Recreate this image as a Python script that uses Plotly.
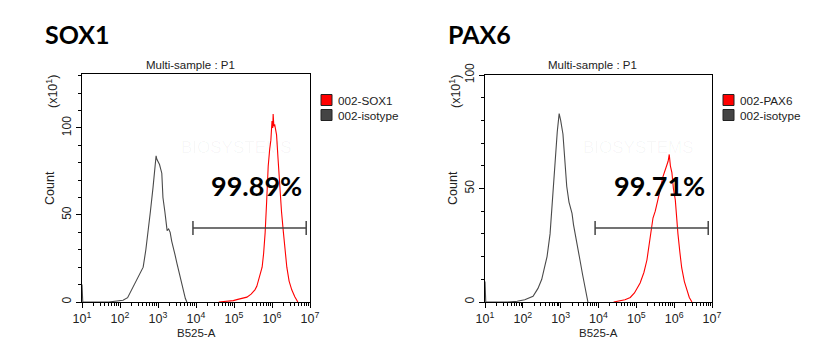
import plotly.graph_objects as go

W, H = 820, 360
OFF = 8  # page body margin offset

# ---------------- data (x as log10 of B525-A intensity, y as Count x10) ----------------
sox1_iso_log = [1.00, 1.02, 1.70, 1.90, 2.08, 2.20, 2.34, 2.45, 2.55, 2.61, 2.68, 2.74, 2.80, 2.87, 2.92,
                2.95, 2.97, 3.00, 3.04, 3.10, 3.13, 3.18, 3.24, 3.28, 3.32, 3.36, 3.40, 3.45, 3.50, 3.56,
                3.62, 3.68, 3.72, 3.76]
sox1_iso_cnt = [10, 0, 0, 0.5, 1, 2.5, 8.6, 13, 17, 20, 30, 40, 52, 66, 76,
                84, 82, 81, 79, 74, 60, 52, 41, 42, 40, 35, 32, 27, 22, 16,
                11, 5, 2, 0]

sox1_pos_log = [4.60, 4.80, 4.98, 5.10, 5.20, 5.34, 5.45, 5.55, 5.60, 5.67, 5.74, 5.78, 5.82, 5.86, 5.90,
                5.94, 5.97, 6.00, 6.02, 6.03, 6.05, 6.07, 6.09, 6.12, 6.16, 6.20, 6.25, 6.30, 6.35, 6.39,
                6.45, 6.52, 6.60, 6.68]
sox1_pos_cnt = [0, 0.3, 0.8, 1.5, 2, 2.8, 4.5, 7, 9, 14, 20, 28, 40, 58, 78,
                88, 93, 104, 100, 108, 101, 102, 99, 96, 82, 66, 52, 40, 28, 20,
                12, 7, 3, 0]

pax6_iso_log = [1.00, 1.02, 1.60, 1.85, 2.05, 2.27, 2.40, 2.50, 2.57, 2.64, 2.72, 2.78, 2.85, 2.91, 2.96,
                3.00, 3.06, 3.10, 3.16, 3.22, 3.27, 3.30, 3.34, 3.38, 3.45, 3.51, 3.58, 3.65, 3.70, 3.72]
pax6_iso_cnt = [9, 0, 0, 0.3, 1, 2.5, 6, 10, 15, 20, 30, 45, 63, 75, 83,
                80, 74, 64, 51, 44, 40, 39, 34, 30, 24, 18.5, 12, 6.6, 2, 0]

pax6_pos_log = [4.40, 4.50, 4.70, 4.84, 4.95, 5.10, 5.20, 5.28, 5.33, 5.37, 5.44, 5.50, 5.58, 5.64, 5.70,
                5.76, 5.80, 5.84, 5.87, 5.90, 5.94, 5.98, 6.03, 6.06, 6.10, 6.15, 6.20, 6.27, 6.34, 6.40,
                6.47]
pax6_pos_cnt = [0, 0.3, 1, 2, 4, 8.4, 13, 18.5, 24, 30, 37, 40, 45, 50, 55,
                58, 60, 62, 65, 60, 57, 50, 45, 38, 30, 22, 15, 9, 5, 2,
                0]

panel_titles = ["SOX1", "PAX6"]
percent_labels = ["99.89%", "99.71%"]
legend_labels = [["002-SOX1", "002-isotype"], ["002-PAX6", "002-isotype"]]
gate_log = [[3.92, 6.90], [3.91, 6.90]]
gate_cnt = [42.5, 32.6]
y_max = [131, 100]
x_tick_exp = [1, 2, 3, 4, 5, 6, 7]

RED = "#ff0000"
GRAY = "#4a4a4a"
FONT = "Liberation Sans, Arial, sans-serif"
BOLD = "Lato, Open Sans, sans-serif"

# pixel geometry of the two plot boxes (screen pixels)
boxes = [dict(l=82, r=310, t=74, b=302), dict(l=485, r=712, t=75, b=302)]

fig = go.Figure()

def px_x(x):
    return (x - OFF) / W

def px_y(y):
    return 1 - (y - OFF) / H

series = [(sox1_iso_log, sox1_iso_cnt, sox1_pos_log, sox1_pos_cnt),
          (pax6_iso_log, pax6_iso_cnt, pax6_pos_log, pax6_pos_cnt)]

major_tv = [10 ** e for e in x_tick_exp]
major_tt = ["10<sup>%d</sup>" % e for e in x_tick_exp]
minor_tv = [m * 10 ** e for e in x_tick_exp[:-1] for m in range(2, 10)]

shapes = []
annotations = []
for i, (il, ic, pl, pc) in enumerate(series):
    xa = "x" if i == 0 else "x2"
    ya = "y" if i == 0 else "y2"
    fig.add_trace(go.Scatter(x=[10 ** v for v in il], y=ic, mode="lines",
                             line=dict(color=GRAY, width=1.1), xaxis=xa, yaxis=ya,
                             showlegend=False, hoverinfo="skip"))
    fig.add_trace(go.Scatter(x=[10 ** v for v in pl], y=pc, mode="lines",
                             line=dict(color=RED, width=1.1), xaxis=xa, yaxis=ya,
                             showlegend=False, hoverinfo="skip"))
    b = boxes[i]
    axis_common = dict(showline=True, linecolor="black", linewidth=1, mirror=True,
                       showgrid=False, zeroline=False, ticks="outside", tickcolor="black",
                       automargin=False)
    xkey = "xaxis" if i == 0 else "xaxis2"
    ykey = "yaxis" if i == 0 else "yaxis2"
    fig.update_layout(**{
        xkey: dict(axis_common, type="log", range=[1, 7], tickmode="array",
                   tickvals=major_tv, ticktext=major_tt, ticklen=5,
                   tickfont=dict(family=FONT, size=12.5, color="#222"),
                   minor=dict(tickmode="array", tickvals=minor_tv, ticks="outside",
                              ticklen=3, tickcolor="black"),
                   domain=[px_x(b["l"]), px_x(b["r"])], anchor=ya),
        ykey: dict(axis_common, range=[0, y_max[i]], tickmode="array", tickvals=[0, 50, 100],
                   ticklen=5, tickangle=-90,
                   tickfont=dict(family=FONT, size=12, color="#222"),
                   minor=dict(dtick=10, ticks="outside", ticklen=3, tickcolor="black"),
                   domain=[px_y(b["b"]), px_y(b["t"])], anchor=xa),
    })
    cx = (b["l"] + b["r"]) / 2
    # panel title
    annotations.append(dict(text="<b>%s</b>" % panel_titles[i], x=px_x(b["l"] - 39), y=px_y(34),
                            xref="paper", yref="paper", xanchor="left", yanchor="middle",
                            showarrow=False, font=dict(family=BOLD, size=25, color="black")))
    annotations.append(dict(text="Multi-sample : P1", x=px_x(cx - 6), y=px_y(65), xref="paper", yref="paper",
                            xanchor="center", yanchor="middle", showarrow=False,
                            font=dict(family=FONT, size=11.5, color="#222")))
    annotations.append(dict(text="B525-A", x=px_x(cx), y=px_y(333), xref="paper", yref="paper",
                            xanchor="center", yanchor="middle", showarrow=False,
                            font=dict(family=FONT, size=11.5, color="#222")))
    annotations.append(dict(text="Count", x=px_x(b["l"] - 32), y=px_y(188), xref="paper", yref="paper",
                            xanchor="center", yanchor="middle", showarrow=False, textangle=-90,
                            font=dict(family=FONT, size=12.5, color="#222")))
    annotations.append(dict(text="(x10<sup>1</sup>)", x=px_x(b["l"] - 30), y=px_y(92), xref="paper", yref="paper",
                            xanchor="center", yanchor="middle", showarrow=False, textangle=-90,
                            font=dict(family=FONT, size=12.5, color="#222")))
    # percentage label
    annotations.append(dict(text="<b>%s</b>" % percent_labels[i], x=px_x(b["l"] + 174), y=px_y(185),
                            xref="paper", yref="paper", xanchor="center", yanchor="middle",
                            showarrow=False, font=dict(family=BOLD, size=27, color="black")))
    # gate P2
    g0, g1 = 10 ** gate_log[i][0], 10 ** gate_log[i][1]
    gy = gate_cnt[i]
    shapes.append(dict(type="line", xref=xa, yref=ya, x0=g0, x1=g1, y0=gy, y1=gy,
                       line=dict(color="#444", width=1.5)))
    for gx in (g0, g1):
        shapes.append(dict(type="line", xref=xa, yref=ya, x0=gx, x1=gx, y0=gy - 4 * y_max[i] / 131,
                           y1=gy + 4 * y_max[i] / 131, line=dict(color="#444", width=1.5)))
    annotations.append(dict(text="P2", x=g0, y=gy, xref=xa, yref=ya, xanchor="left", yanchor="bottom",
                            yshift=5, showarrow=False, font=dict(family=FONT, size=12, color="#222")))
    # legend
    lx = b["r"] + 11
    for j, (lab, col) in enumerate(zip(legend_labels[i], [RED, "#444444"])):
        yc = 100 + 15 * j
        shapes.append(dict(type="rect", xref="paper", yref="paper",
                           x0=px_x(lx), x1=px_x(lx + 11), y0=px_y(yc + 5.5), y1=px_y(yc - 5.5),
                           fillcolor=col, line=dict(color="#222", width=1)))
        annotations.append(dict(text=lab, x=px_x(lx + 15), y=px_y(yc), xref="paper", yref="paper",
                                xanchor="left", yanchor="middle", showarrow=False,
                                font=dict(family=FONT, size=11.7, color="#222")))
    # faint watermark
    annotations.append(dict(text="BIOSYSTEMS", x=px_x(cx + 40), y=px_y(147), xref="paper", yref="paper",
                            xanchor="center", yanchor="middle", showarrow=False,
                            font=dict(family=FONT, size=17, color="rgba(0,0,0,0.035)")))

fig.update_layout(width=W, height=H, margin=dict(l=0, r=0, t=0, b=0, autoexpand=False),
                  paper_bgcolor="white", plot_bgcolor="white", showlegend=False,
                  shapes=shapes, annotations=annotations)

fig.write_html("out.html")
